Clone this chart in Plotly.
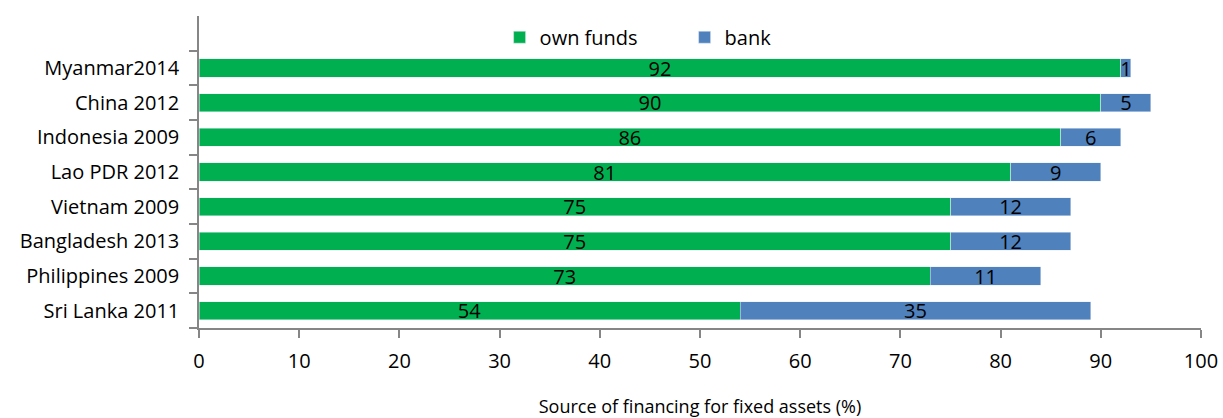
import plotly.graph_objects as go

countries = ['Sri Lanka 2011', 'Philippines 2009', 'Bangladesh 2013', 'Vietnam 2009',
             'Lao PDR 2012', 'Indonesia 2009', 'China 2012', 'Myanmar2014']
own_funds = [54, 73, 75, 75, 81, 86, 90, 92]
bank = [35, 11, 12, 12, 9, 6, 5, 1]
x_ticks = [0, 10, 20, 30, 40, 50, 60, 70, 80, 90, 100]

font = 'Open Sans'

fig = go.Figure()
fig.add_trace(go.Bar(y=countries, x=own_funds, name='own funds', orientation='h',
                     marker_color='#00B050', text=own_funds, textposition='inside',
                     insidetextanchor='middle', textangle=0,
                     textfont=dict(size=20, color='black')))
fig.add_trace(go.Bar(y=countries, x=bank, name='bank', orientation='h',
                     marker_color='#4F81BD', text=bank, textposition='inside',
                     insidetextanchor='middle', textangle=0,
                     textfont=dict(size=20, color='black')))

fig.update_layout(
    barmode='stack', bargap=0.48,
    width=1223, height=418,
    margin=dict(l=199, r=22, t=16, b=90),
    plot_bgcolor='white', paper_bgcolor='white',
    font=dict(family=font, size=20, color='black'),
    uniformtext=dict(minsize=20, mode='show'),
    legend=dict(orientation='h', x=0.3, xanchor='left', y=0.932, yanchor='middle',
                traceorder='normal', entrywidth=140, entrywidthmode='pixels',
                font=dict(size=20), bgcolor='rgba(0,0,0,0)'),
    showlegend=True,
)
fig.update_xaxes(range=[0, 100], tickvals=x_ticks, showgrid=False, zeroline=False,
                 showline=True, linecolor='#868686', linewidth=1.5, automargin=False,
                 ticks='outside', ticklen=8, tickcolor='#868686', tickwidth=1.5,
                 ticklabelstandoff=6,
                 title=dict(text='Source of financing for fixed assets (%)',
                            font=dict(size=18), standoff=30))
fig.update_yaxes(categoryorder='array', categoryarray=countries, range=[-0.5, 8.5],
                 showgrid=False, zeroline=False, showline=True, linecolor='#868686',
                 linewidth=1.5, ticks='outside', ticklen=8, tickcolor='#868686',
                 tickwidth=1.5, tickson='boundaries', ticklabelstandoff=14,
                 automargin=False)

# drop the default page margin so the figure fills the window exactly
fig.write_html('out.html', config={'displayModeBar': False},
               post_script="document.body.style.margin = '0';")
